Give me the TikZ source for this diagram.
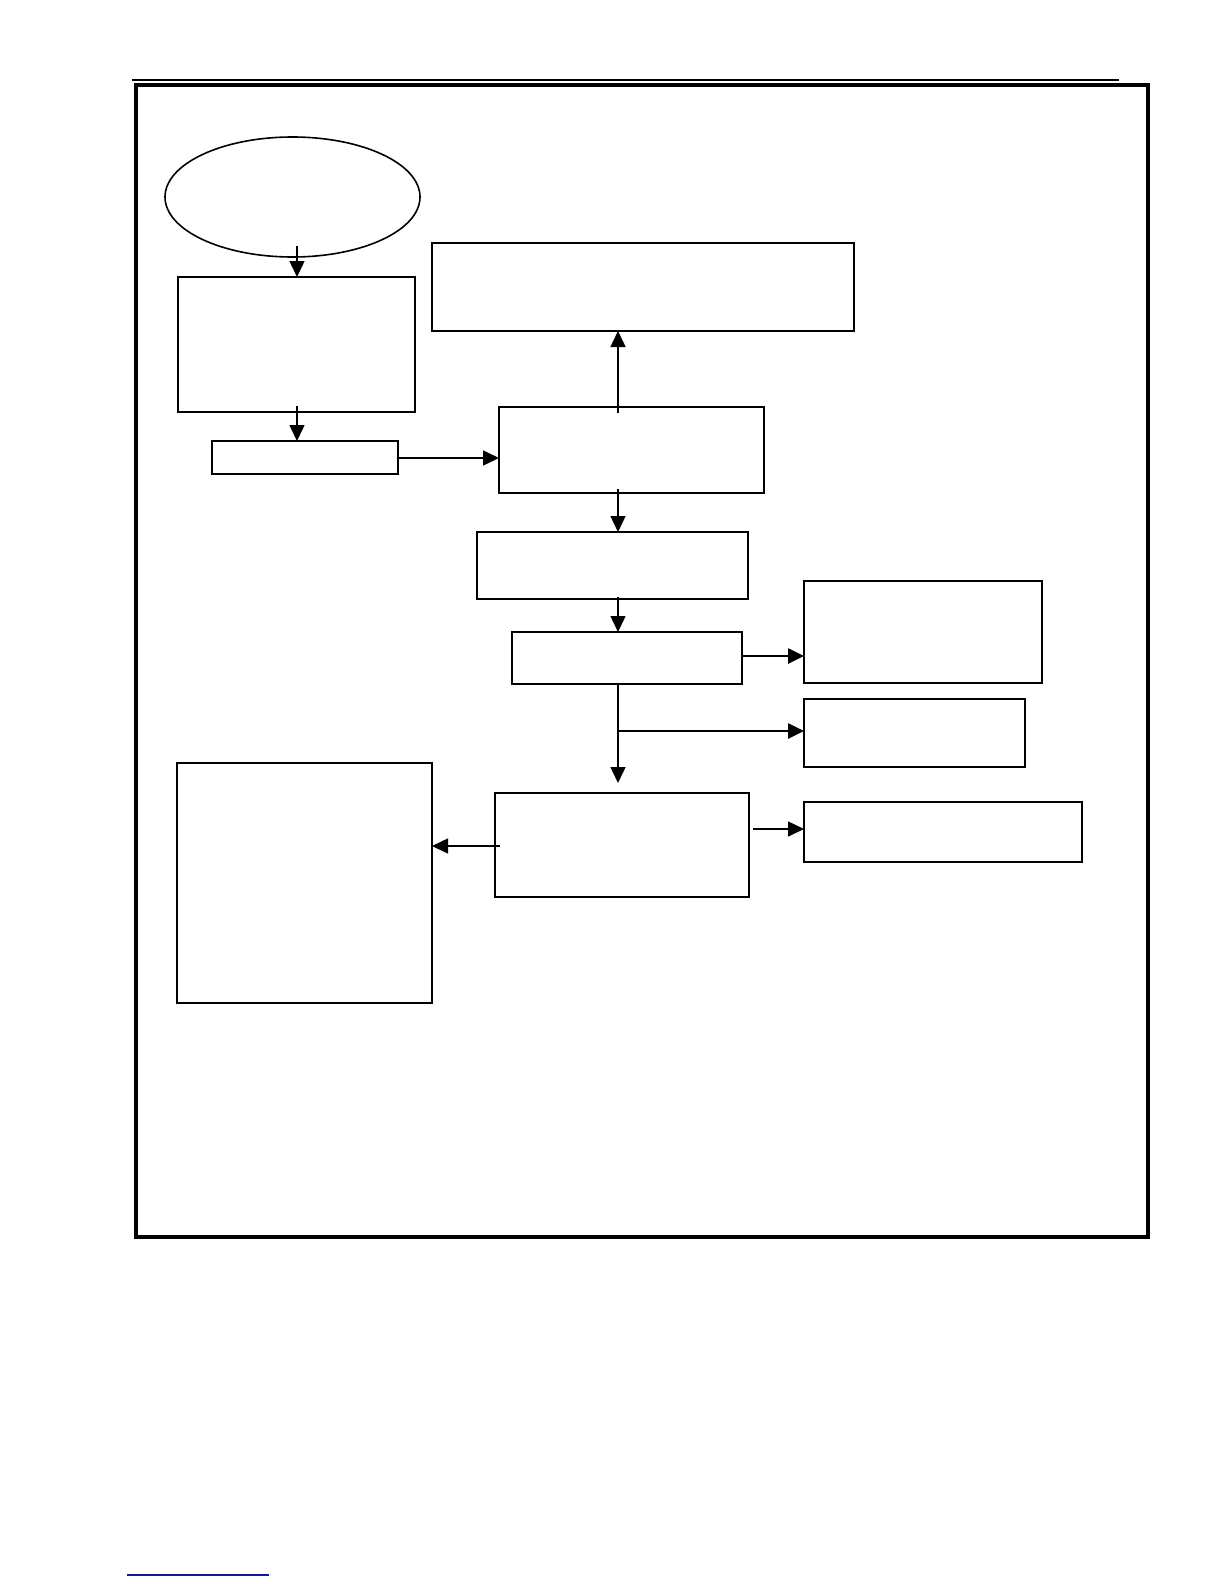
\documentclass[tikz,border=0pt]{standalone}
\usetikzlibrary{arrows.meta,shapes.geometric,calc}
\definecolor{linkblue}{RGB}{20,20,160}
\begin{document}
\begin{tikzpicture}[x=1pt,y=-1pt,
  box/.style={draw,rectangle,inner sep=0pt,outer sep=0pt,line width=2pt},
  thickbox/.style={box,line width=2.8pt},
  thinbox/.style={box,line width=1.6pt},
  arr/.style={line width=1.5pt,-{Triangle[length=16pt,width=15pt]}},
  thickarr/.style={arr,line width=2.6pt}]
\useasboundingbox (0,0) rectangle (1224,1584);
% page header / footer rules
\coordinate (h1) at (132,80); \coordinate (h2) at (1119,80);
\draw[line width=1.5pt] (h1) -- (h2);
\coordinate (f1) at (127,1575); \coordinate (f2) at (269,1575);
\draw[linkblue,line width=1.2pt] (f1) -- (f2);
% outer frame
\coordinate (fr1) at (136,85); \coordinate (fr2) at (1148,1237);
\draw[line width=3.2pt] (fr1) rectangle (fr2);
% nodes
\node[draw,ellipse,line width=1.6pt,inner sep=0pt,minimum width=255pt,minimum height=120pt] (ell) at (292.5,197) {};
\node[thickbox,minimum width=237pt,minimum height=135pt] (b1) at (296.5,344.5) {};
\node[box,minimum width=186pt,minimum height=33pt] (b2) at (305,457.5) {};
\node[box,minimum width=265pt,minimum height=86pt] (b3) at (631.5,450) {};
\node[thickbox,minimum width=422pt,minimum height=88pt] (b4) at (643,287) {};
\node[thinbox,minimum width=271pt,minimum height=67pt] (b5) at (612.5,565.5) {};
\node[box,minimum width=230pt,minimum height=52pt] (b6) at (627,658) {};
\node[box,minimum width=238pt,minimum height=102pt] (b7) at (923,632) {};
\node[box,minimum width=221pt,minimum height=68pt] (b8) at (914.5,733) {};
\node[thickbox,minimum width=254pt,minimum height=104pt] (b9) at (622,845) {};
\node[box,minimum width=278pt,minimum height=60pt] (b10) at (943,832) {};
\node[box,line width=2.4pt,minimum width=255pt,minimum height=240pt] (b11) at (304.5,883) {};
% connector start points
\coordinate (s1) at (297,246);
\coordinate (s2) at (297,406);
\coordinate (s3) at (398,458);
\coordinate (s4) at (618,413);
\coordinate (s5) at (618,489);
\coordinate (s6) at (618,597);
\coordinate (s7) at (742,656);
\coordinate (s8) at (618,684);
\coordinate (e8) at (618,783);
\coordinate (s9) at (618,731);
\coordinate (s10) at (753,829);
\coordinate (s11) at (500,846);
% connectors
\draw[arr] (s1) -- (s1 |- b1.north);
\draw[arr] (s2) -- (s2 |- b2.north);
\draw[arr] (s3) -- (s3 -| b3.west);
\draw[arr] (s4) -- (s4 |- b4.south);
\draw[arr] (s5) -- (s5 |- b5.north);
\draw[arr] (s6) -- (s6 |- b6.north);
\draw[thickarr] (s7) -- (s7 -| b7.west);
\draw[arr] (s8) -- (e8);
\draw[thickarr] (s9) -- (s9 -| b8.west);
\draw[arr] (s10) -- (s10 -| b10.west);
\draw[arr] (s11) -- (s11 -| b11.east);
\end{tikzpicture}
\end{document}
